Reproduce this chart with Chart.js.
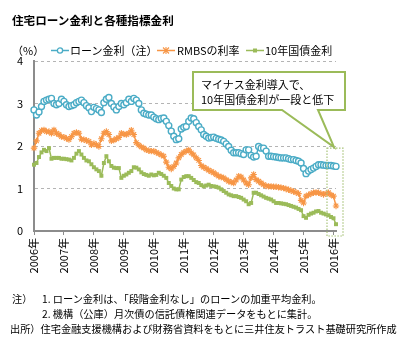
<!DOCTYPE html>
<html><head><meta charset="utf-8">
<script src="https://cdn.jsdelivr.net/npm/chart.js@4"></script>
<style>
html,body{margin:0;padding:0;background:#fff;}
body{width:416px;height:346px;position:relative;overflow:hidden;font-family:"Noto Sans CJK JP",sans-serif;color:#000;}
#c{position:absolute;left:0;top:0;}
.t{position:absolute;white-space:nowrap;line-height:1;}
.lg{position:absolute;top:45px;height:11px;}
.note{position:absolute;white-space:nowrap;line-height:1;font-size:10.2px;}
</style></head><body>
<canvas id="c" width="416" height="346"></canvas>
<div class="t" style="left:12px;top:15px;font-size:11.6px;font-weight:bold;">住宅ローン金利と各種指標金利</div>
<div class="t" style="left:12px;top:45px;font-size:11px;">（%）</div>
<svg class="lg" style="left:51px;" width="18" height="11"><line x1="0" y1="5.5" x2="18" y2="5.5" stroke="#4BACC6" stroke-width="1.5"/><circle cx="9" cy="5.5" r="2.6" fill="#fff" stroke="#4BACC6" stroke-width="1.3"/></svg>
<div class="t" style="left:70px;top:45px;font-size:11px;">ローン金利（注）</div>
<svg class="lg" style="left:157px;" width="18" height="11"><line x1="0" y1="5.5" x2="18" y2="5.5" stroke="#F79646" stroke-width="1.5"/><path d="M6,2.5 L12,8.5 M12,2.5 L6,8.5 M9,2 L9,9" stroke="#F79646" stroke-width="1.1"/></svg>
<div class="t" style="left:177px;top:45px;font-size:11px;">RMBSの利率</div>
<svg class="lg" style="left:246px;" width="18" height="11"><line x1="0" y1="5.5" x2="18" y2="5.5" stroke="#9BBB59" stroke-width="1.5"/><rect x="7" y="3.5" width="4" height="4" fill="#9BBB59"/></svg>
<div class="t" style="left:265px;top:45px;font-size:11px;">10年国債金利</div>
<div class="t" style="left:201px;top:77px;font-size:11px;line-height:15px;">マイナス金利導入で、<br>10年国債金利が一段と低下</div>
<div class="note" style="left:12px;top:294px;">注）</div>
<div class="note" style="left:42px;top:294px;">1. ローン金利は、「段階金利なし」のローンの加重平均金利。</div>
<div class="note" style="left:42px;top:309px;">2. 機構（公庫）月次債の信託債権関連データをもとに集計。</div>
<div class="note" style="left:10px;top:324px;">出所）住宅金融支援機構および財務省資料をもとに三井住友トラスト基礎研究所作成</div>
<script>
// months: Jan 2006 .. Feb 2016
const startYear = 2006, monthCount = 122;
const monthLabels = [];
for (let i = 0; i < monthCount; i++) {
  const y = startYear + Math.floor(i / 12), m = (i % 12) + 1;
  monthLabels.push(y + '-' + String(m).padStart(2, '0'));
}
const yTicks = [0, 1, 2, 3, 4];

const loanRate = [
 2.85,2.73,2.80,2.93,3.05,3.08,3.10,3.12,3.00,2.97,3.00,3.10,
 3.05,2.97,2.93,2.95,2.97,3.02,3.05,3.08,3.02,2.95,2.90,2.81,
 2.91,2.88,2.85,2.79,3.02,3.10,3.14,3.00,2.92,2.85,2.93,3.00,
 2.97,3.02,3.10,3.05,3.12,3.08,3.00,2.85,2.77,2.75,2.73,2.73,
 2.68,2.64,2.62,2.65,2.66,2.58,2.48,2.35,2.23,2.15,2.17,2.40,
 2.44,2.46,2.58,2.66,2.64,2.55,2.46,2.38,2.27,2.23,2.19,2.20,
 2.21,2.18,2.16,2.14,2.11,2.05,1.99,1.90,1.84,1.84,1.84,1.82,
 1.80,1.91,1.91,1.78,1.74,1.76,1.99,1.95,1.95,1.88,1.76,1.76,
 1.75,1.74,1.73,1.72,1.72,1.72,1.70,1.68,1.68,1.66,1.64,1.60,
 1.47,1.35,1.41,1.45,1.48,1.52,1.56,1.56,1.55,1.54,1.54,1.54,
 1.53,1.52
];
const rmbsRate = [
 1.95,2.12,2.30,2.36,2.38,2.34,2.34,2.30,2.38,2.30,2.27,2.22,
 2.21,2.18,2.15,2.22,2.30,2.32,2.30,2.16,2.15,2.13,2.11,2.03,
 2.06,2.03,1.99,2.17,2.30,2.34,2.27,2.12,2.14,2.17,2.20,2.30,
 2.28,2.27,2.30,2.37,2.27,2.08,2.02,1.98,1.95,1.91,1.89,1.88,
 1.88,1.85,1.82,1.79,1.76,1.62,1.50,1.46,1.52,1.60,1.72,1.80,
 1.85,1.88,1.91,1.84,1.79,1.72,1.66,1.54,1.50,1.47,1.43,1.40,
 1.37,1.33,1.29,1.27,1.25,1.21,1.17,1.15,1.13,1.20,1.29,1.27,
 1.20,1.13,1.09,1.25,1.33,1.21,1.17,1.13,1.09,1.06,1.05,1.05,
 1.04,1.04,1.03,1.02,1.01,0.99,0.97,0.95,0.93,0.91,0.88,0.72,
 0.66,0.82,0.85,0.88,0.90,0.91,0.90,0.88,0.86,0.88,0.90,0.85,
 0.82,0.59
];
const jgb10y = [
 1.56,1.60,1.74,1.85,1.91,1.88,1.95,1.70,1.72,1.72,1.72,1.70,
 1.70,1.69,1.68,1.66,1.72,1.82,1.88,1.80,1.72,1.66,1.64,1.57,
 1.50,1.45,1.41,1.30,1.60,1.76,1.64,1.53,1.49,1.48,1.48,1.25,
 1.30,1.33,1.37,1.41,1.50,1.49,1.45,1.38,1.34,1.32,1.30,1.33,
 1.31,1.32,1.37,1.34,1.30,1.25,1.13,1.06,1.00,0.98,0.98,1.21,
 1.27,1.29,1.29,1.25,1.20,1.15,1.13,1.08,1.05,1.07,1.09,1.06,
 1.05,1.04,1.02,0.98,0.94,0.90,0.86,0.84,0.82,0.82,0.80,0.78,
 0.74,0.70,0.63,0.66,0.90,0.90,0.87,0.84,0.81,0.78,0.76,0.74,
 0.70,0.66,0.66,0.65,0.64,0.63,0.61,0.59,0.57,0.55,0.52,0.49,
 0.35,0.31,0.38,0.41,0.43,0.46,0.47,0.43,0.41,0.39,0.37,0.33,
 0.30,0.16
];

const GREEN = '#9BBB59';
const calloutPlugin = {
  id: 'callout',
  afterDatasetsDraw(chart) {
    const ctx = chart.ctx, xs = chart.scales.x, ys = chart.scales.y;
    const xc = xs.getPixelForValue(monthCount - 1.4);
    const boxTop = ys.getPixelForValue(1.95);
    const boxBot = ys.getPixelForValue(0) + 5;
    ctx.save();
    // dotted highlight box
    ctx.strokeStyle = '#A9C47A';
    ctx.lineWidth = 1.2;
    ctx.setLineDash([1.5, 1.5]);
    ctx.strokeRect(xc - 8, boxTop, 16, boxBot - boxTop);
    ctx.setLineDash([]);
    // callout box
    const L = 193, T = 72, R = 345, B = 110;
    ctx.beginPath();
    ctx.moveTo(L, T); ctx.lineTo(R, T); ctx.lineTo(R, B);
    ctx.lineTo(318, B); ctx.lineTo(xc - 1, boxTop - 1); ctx.lineTo(282, B);
    ctx.lineTo(L, B); ctx.closePath();
    ctx.fillStyle = '#fff'; ctx.fill();
    ctx.strokeStyle = GREEN; ctx.lineWidth = 2; ctx.lineJoin = 'miter';
    ctx.stroke();
    ctx.restore();
  }
};

new Chart(document.getElementById('c'), {
  type: 'line',
  data: {
    labels: monthLabels,
    datasets: [
      { label: 'ローン金利（注）', data: loanRate, borderColor: '#4BACC6', borderWidth: 1.5,
        pointStyle: 'circle', pointRadius: 3, pointBorderWidth: 1.4,
        pointBackgroundColor: '#fff', pointBorderColor: '#4BACC6', tension: 0 },
      { label: 'RMBSの利率', data: rmbsRate, borderColor: '#F79646', borderWidth: 1.5,
        pointStyle: 'star', pointRadius: 3.2, pointBorderWidth: 1.1,
        pointBackgroundColor: '#F79646', pointBorderColor: '#F79646', tension: 0 },
      { label: '10年国債金利', data: jgb10y, borderColor: GREEN, borderWidth: 1.5,
        pointStyle: 'rect', pointRadius: 2.8, pointBorderWidth: 0,
        pointBackgroundColor: GREEN, pointBorderColor: GREEN, tension: 0 }
    ]
  },
  options: {
    responsive: false, animation: false, devicePixelRatio: 1,
    layout: { padding: { left: 0, top: 61, right: 80, bottom: 65 } },
    plugins: { legend: { display: false }, tooltip: { enabled: false } },
    scales: {
      x: {
        type: 'category', offset: false,
        afterFit: s => { s.height = 50; },
        afterBuildTicks: s => { s.ticks = s.ticks.filter(t => t.value % 12 === 0); },
        grid: { display: true, drawOnChartArea: false, drawTicks: true, tickLength: 4, color: '#8c8c8c', tickWidth: 1 },
        border: { display: true, color: '#8c8c8c', width: 2 },
        ticks: {
          autoSkip: false, minRotation: 90, maxRotation: 90, padding: 3,
          color: '#000', font: { family: 'Noto Sans CJK JP', size: 11 },
          callback: function (v) { return this.getLabelForValue(v).slice(0, 4) + '年'; }
        }
      },
      y: {
        min: 0, max: 4,
        afterFit: s => { s.width = 34; },
        afterBuildTicks: s => { s.ticks = yTicks.map(v => ({ value: v })); },
        grid: { color: '#b4b4b4', drawTicks: false, lineWidth: 1 },
        border: { display: true, color: '#8c8c8c', width: 2, dash: [3, 3] },
        ticks: { padding: 11, color: '#000', font: { family: 'Noto Sans CJK JP', size: 11 } }
      }
    }
  },
  plugins: [calloutPlugin]
});
</script>
</body></html>
